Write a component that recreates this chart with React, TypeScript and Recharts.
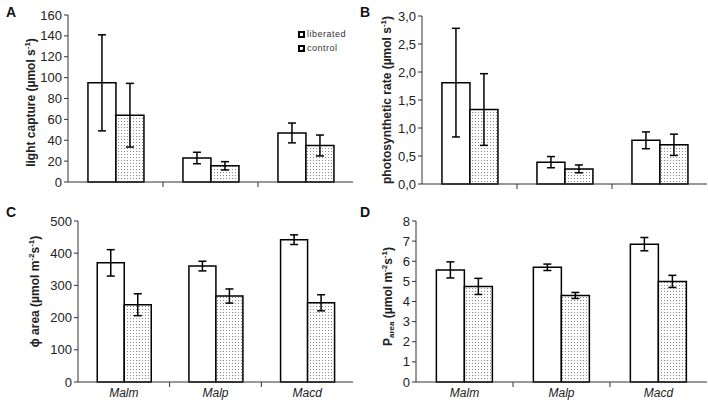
import React from 'react';
import { BarChart, Bar, XAxis, YAxis, ErrorBar, Legend } from 'recharts';

const categories = ['Malm', 'Malp', 'Macd'];

// A: light capture (µmol s-1)
const captureLiberated = [95, 23, 47];
const captureLiberatedErr = [46, 5.5, 9.5];
const captureControl = [64, 15.5, 35];
const captureControlErr = [30.5, 4, 10];
const captureTicks = [0, 20, 40, 60, 80, 100, 120, 140, 160];

// B: photosynthetic rate (µmol s-1)
const photoLiberated = [1.81, 0.39, 0.78];
const photoLiberatedErr = [0.97, 0.1, 0.15];
const photoControl = [1.33, 0.27, 0.7];
const photoControlErr = [0.64, 0.07, 0.19];
const photoTicks = [0, 0.5, 1, 1.5, 2, 2.5, 3];

// C: phi area (µmol m-2 s-1)
const phiLiberated = [370, 360, 442];
const phiLiberatedErr = [41, 15, 15];
const phiControl = [240, 267, 246];
const phiControlErr = [34, 22, 25];
const phiTicks = [0, 100, 200, 300, 400, 500];

// D: P area (µmol m-2 s-1)
const pLiberated = [5.57, 5.7, 6.85];
const pLiberatedErr = [0.4, 0.16, 0.33];
const pControl = [4.75, 4.3, 5.0];
const pControlErr = [0.4, 0.15, 0.3];
const pTicks = [0, 1, 2, 3, 4, 5, 6, 7, 8];

const FONT = 'Arial, "Liberation Sans", sans-serif';
const AXIS = '#333';

const rows = (lib: number[], libErr: number[], ctl: number[], ctlErr: number[]) =>
    categories.map((name, i) => ({
        name,
        liberated: lib[i],
        liberatedErr: libErr[i],
        control: ctl[i],
        controlErr: ctlErr[i],
    }));

const Sup = ({ children }: any) => (
    <tspan fontSize={8} dy={-4}>{children}</tspan>
);

const LegendBox = () => (
    <div style={{ fontFamily: FONT, fontSize: 9, color: '#333', lineHeight: '14px' }}>
        {['liberated', 'control'].map((name) => (
            <div key={name} style={{ display: 'flex', alignItems: 'center' }}>
                <svg width={7} height={7} style={{ marginRight: 2 }}>
                    <rect x={1} y={1} width={5} height={5} fill={name === 'control' ? 'url(#dots)' : '#fff'} stroke="#000" strokeWidth={2} />
                </svg>
                <span style={{ letterSpacing: 0.5 }}>{name}</span>
            </div>
        ))}
    </div>
);

interface PanelProps {
    letter: string;
    data: any[];
    ticks: number[];
    left: number;
    top: number;
    height: number;
    margin: { top: number; left: number; bottom: number };
    labelX: number;
    labelShift: number;
    label: React.ReactNode;
    showNames: boolean;
    decimalComma?: boolean;
    legend?: boolean;
}

const Panel: React.FC<PanelProps> = ({ letter, data, ticks, left, top, height, margin, labelX, labelShift, label, showNames, decimalComma, legend }) => {
    const width = 354;
    const plotW = width - margin.left - 1;
    const band = plotW / categories.length;
    const xTick = (props: any) => {
        const { x, y, payload, index } = props;
        return (
            <g>
                {index < categories.length - 1 && (
                    <line x1={x + band / 2} x2={x + band / 2} y1={y} y2={y + 5} stroke={AXIS} strokeWidth={1} />
                )}
                {showNames && (
                    <text x={x} y={y + 15} textAnchor="middle" fontStyle="italic" fontSize={12} fill="#222" fontFamily={FONT}>
                        {payload.value}
                    </text>
                )}
            </g>
        );
    };
    return (
        <div style={{ position: 'absolute', left, top, width, height }}>
            <div style={{ position: 'absolute', left: 6, top: 4, fontFamily: FONT, fontWeight: 'bold', fontSize: 14, color: '#111' }}>{letter}</div>
            <BarChart
                width={width}
                height={height}
                data={data}
                margin={{ top: margin.top, right: 1, bottom: 0, left: 0 }}
                barCategoryGap="21%"
                barGap={0}
            >
                <XAxis
                    dataKey="name"
                    height={margin.bottom}
                    tickLine={false}
                    tickSize={0}
                    tickMargin={0}
                    tick={xTick}
                    stroke={AXIS}
                    interval={0}
                />
                <YAxis
                    width={margin.left}
                    domain={[ticks[0], ticks[ticks.length - 1]]}
                    ticks={ticks}
                    interval={0}
                    tickSize={4}
                    stroke={AXIS}
                    tick={{ fill: '#222', fontSize: 13, fontFamily: FONT }}
                    tickFormatter={(v: number) => (decimalComma ? v.toFixed(1).replace('.', ',') : String(v))}
                    label={{
                        content: ({ viewBox }: any) => (
                            <text
                                x={labelX}
                                y={viewBox.y + viewBox.height / 2 + labelShift}
                                transform={`rotate(-90 ${labelX} ${viewBox.y + viewBox.height / 2 + labelShift})`}
                                textAnchor="middle"
                                dominantBaseline="central"
                                fontFamily={FONT}
                                fontWeight="bold"
                                fontSize={12}
                                fill="#222"
                            >
                                {label}
                            </text>
                        ),
                    }}
                />
                {legend && (
                    <Legend
                        layout="vertical"
                        align="center"
                        verticalAlign="middle"
                        content={() => <LegendBox />}
                        wrapperStyle={{ position: 'absolute', left: 298, top: 27, width: 60 }}
                    />
                )}
                <Bar dataKey="liberated" fill="#fff" stroke="#000" strokeWidth={1.5} isAnimationActive={false}>
                    <ErrorBar dataKey="liberatedErr" width={4} stroke="#000" strokeWidth={1.5} />
                </Bar>
                <Bar dataKey="control" fill="url(#dots)" stroke="#000" strokeWidth={1.5} isAnimationActive={false}>
                    <ErrorBar dataKey="controlErr" width={4} stroke="#000" strokeWidth={1.5} />
                </Bar>
            </BarChart>
        </div>
    );
};

const App: React.FC = () => {
    return (
        <div style={{ position: 'fixed', left: 0, top: 0, width: 708, height: 403, background: '#fff', overflow: 'hidden' }}>
            <svg width={0} height={0} style={{ position: 'absolute' }}>
                <defs>
                    <pattern id="dots" width={3} height={3} patternUnits="userSpaceOnUse">
                        <rect width={3} height={3} fill="#fff" />
                        <rect x={1} y={1} width={1} height={1} fill="#8a8a8a" />
                    </pattern>
                </defs>
            </svg>
            <Panel
                letter="A"
                data={rows(captureLiberated, captureLiberatedErr, captureControl, captureControlErr)}
                ticks={captureTicks}
                left={0}
                top={0}
                height={200}
                margin={{ top: 15, left: 68, bottom: 18 }}
                labelX={31}
                labelShift={4}
                label={<>light capture (µmol s<Sup>-1</Sup><tspan dy={4}>)</tspan></>}
                showNames={false}
                legend
            />
            <Panel
                letter="B"
                data={rows(photoLiberated, photoLiberatedErr, photoControl, photoControlErr)}
                ticks={photoTicks}
                left={354}
                top={0}
                height={200}
                margin={{ top: 16, left: 68, bottom: 16 }}
                labelX={33}
                labelShift={0}
                label={<>photosynthetic rate (µmol s<Sup>-1</Sup><tspan dy={4}>)</tspan></>}
                showNames={false}
                decimalComma
            />
            <Panel
                letter="C"
                data={rows(phiLiberated, phiLiberatedErr, phiControl, phiControlErr)}
                ticks={phiTicks}
                left={0}
                top={200}
                height={203}
                margin={{ top: 21, left: 78, bottom: 21 }}
                labelX={35}
                labelShift={-10}
                label={<>ϕ area (µmol m<Sup>-2</Sup><tspan dy={4}>s</tspan><Sup>-1</Sup><tspan dy={4}>)</tspan></>}
                showNames
            />
            <Panel
                letter="D"
                data={rows(pLiberated, pLiberatedErr, pControl, pControlErr)}
                ticks={pTicks}
                left={354}
                top={200}
                height={203}
                margin={{ top: 21, left: 62, bottom: 21 }}
                labelX={34}
                labelShift={-5}
                label={<>P<tspan fontSize={8} dy={3}>area</tspan><tspan dy={-3}> (µmol m</tspan><Sup>-2</Sup><tspan dy={4}>s</tspan><Sup>-1</Sup><tspan dy={4}>)</tspan></>}
                showNames
            />
        </div>
    );
};

export default App;
